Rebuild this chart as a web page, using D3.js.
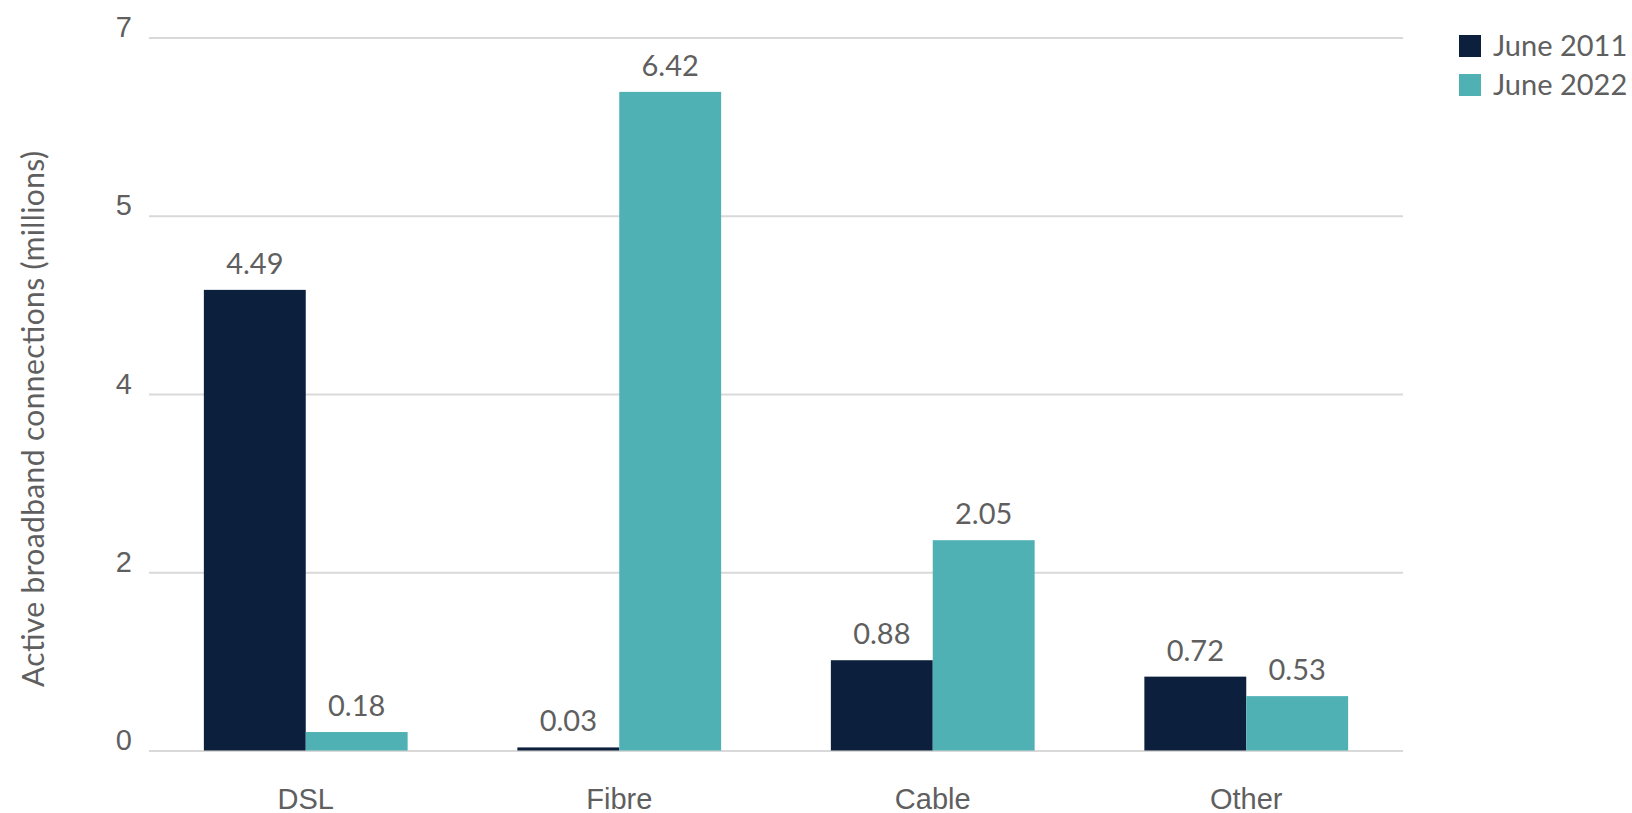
<!DOCTYPE html>
<html>
<head>
<meta charset="utf-8">
<script src="https://cdn.jsdelivr.net/npm/d3@7"></script>
<style>
  html, body { margin: 0; padding: 0; background: #fff; }
  svg { display: block; font-family: Lato, "Open Sans", sans-serif; }
</style>
</head>
<body>
<svg id="chart" width="1632" height="813"></svg>
<script>
// Active broadband connections by technology (millions)
const categories = ["DSL", "Fibre", "Cable", "Other"];
const seriesNames = ["June 2011", "June 2022"];
const june2011 = [4.49, 0.03, 0.88, 0.72];
const june2022 = [0.18, 6.42, 2.05, 0.53];
const yMax = 6.95;
const tickValues = [0, 1.7375, 3.475, 5.2125, 6.95];
const tickLabels = ["0", "2", "4", "5", "7"];
const yTitle = "Active broadband connections (millions)";

const colors = ["#0c203e", "#50b1b4"];
const textColor = "#5f5f5f";

const svg = d3.select("#chart");
const plotLeft = 149, plotRight = 1403, plotTop = 37.5, plotBottom = 750.5;

const x = d3.scaleBand()
  .domain(categories)
  .range([plotLeft, plotRight])
  .paddingInner(0.35)
  .paddingOuter(0.175);

const xs = d3.scaleBand()
  .domain(seriesNames)
  .range([0, x.bandwidth()]);

const y = d3.scaleLinear().domain([0, yMax]).range([plotBottom, plotTop]);

// Gridlines and y tick labels
const yAxis = d3.axisLeft(y)
  .tickValues(tickValues)
  .tickFormat((d, i) => tickLabels[i])
  .tickSize(-(plotRight - plotLeft))
  .tickPadding(17);

const gy = svg.append("g")
  .attr("transform", `translate(${plotLeft},0)`)
  .call(yAxis);
gy.select(".domain").remove();
gy.selectAll(".tick line").attr("stroke", "#d9d9d9").attr("stroke-width", 2);
gy.selectAll(".tick text")
  .attr("fill", textColor)
  .attr("font-size", 29)
  .attr("dy", "0")
  .attr("y", -1);

// Y axis title
svg.append("text")
  .attr("transform", `translate(44,${(151 + 687) / 2}) rotate(-90)`)
  .attr("text-anchor", "middle")
  .attr("fill", textColor)
  .attr("font-size", 30)
  .attr("textLength", 536)
  .attr("lengthAdjust", "spacing")
  .text(yTitle);

// X category labels
const xAxis = d3.axisBottom(x).tickSize(0).tickPadding(0);
const gx = svg.append("g")
  .attr("transform", `translate(0,${plotBottom})`)
  .call(xAxis);
gx.select(".domain").remove();
gx.selectAll(".tick text")
  .attr("fill", textColor)
  .attr("font-size", 29)
  .attr("dy", "0")
  .attr("y", 58);

// Bars
const rows = categories.map((c, i) => ({
  category: c,
  values: [
    { series: seriesNames[0], value: june2011[i], color: colors[0] },
    { series: seriesNames[1], value: june2022[i], color: colors[1] }
  ]
}));

const groups = svg.append("g").selectAll("g")
  .data(rows)
  .join("g")
  .attr("transform", d => `translate(${x(d.category)},0)`);

groups.selectAll("rect")
  .data(d => d.values)
  .join("rect")
  .attr("x", d => xs(d.series))
  .attr("width", xs.bandwidth())
  .attr("y", d => y(d.value))
  .attr("height", d => y(0) - y(d.value))
  .attr("fill", d => d.color);

groups.selectAll("text")
  .data(d => d.values)
  .join("text")
  .attr("x", d => xs(d.series) + xs.bandwidth() / 2)
  .attr("y", d => y(d.value) - 16)
  .attr("text-anchor", "middle")
  .attr("fill", textColor)
  .attr("font-size", 29)
  .text(d => d.value.toFixed(2));

// Legend
const legend = svg.append("g").attr("transform", "translate(1459,35)");
const items = legend.selectAll("g")
  .data(seriesNames)
  .join("g")
  .attr("transform", (d, i) => `translate(0,${i * 39})`);
items.append("rect")
  .attr("width", 22).attr("height", 22)
  .attr("fill", (d, i) => colors[i]);
items.append("text")
  .attr("x", 34).attr("y", 21)
  .attr("fill", textColor)
  .attr("font-size", 29)
  .text(d => d);
</script>
</body>
</html>
